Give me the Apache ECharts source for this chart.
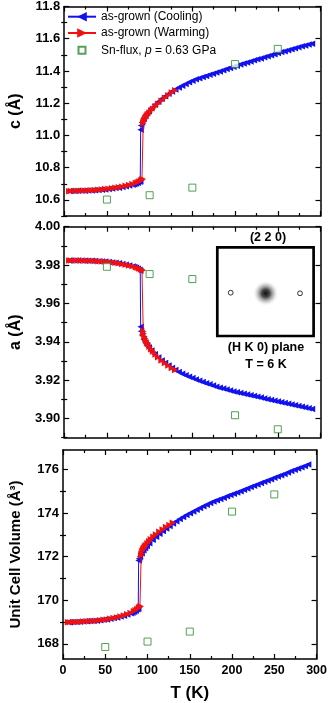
<!DOCTYPE html>
<html>
<head>
<meta charset="utf-8">
<script src="https://cdn.jsdelivr.net/npm/echarts@6/dist/echarts.min.js"></script>
<style>
  html, body { margin: 0; padding: 0; background: #fff; }
  #chart { width: 330px; height: 703px; }
</style>
</head>
<body>
<div id="chart"></div>
<script>
// as-grown, cooling run (K)
const coolT = [290, 286, 282, 278, 274, 270, 266, 262, 258, 254,
  250, 246, 242, 238, 234, 230, 226, 222, 218, 214,
  210, 206, 202, 198, 194, 190, 186, 182, 178, 174,
  170, 166, 162, 158, 154, 150, 146, 142, 138, 134,
  130, 126, 122, 118, 114, 110, 106, 102,
  99, 97, 95, 93, 91, 90, 89.5,
  89, 88, 86, 84, 82, 80,
  76, 72, 68, 64, 60, 56, 52, 48, 44, 40, 36, 32, 28, 24, 20, 16, 12, 8,
  6]
const coolC = [11.569, 11.564, 11.558, 11.553, 11.547, 11.541, 11.535, 11.529, 11.523, 11.517,
  11.511, 11.504, 11.498, 11.491, 11.485, 11.478, 11.472, 11.466, 11.459, 11.453,
  11.447, 11.440, 11.433, 11.426, 11.419, 11.412, 11.404, 11.397, 11.390, 11.383,
  11.376, 11.369, 11.362, 11.355, 11.348, 11.340, 11.330, 11.319, 11.309, 11.298,
  11.285, 11.272, 11.258, 11.243, 11.227, 11.209, 11.190, 11.168,
  11.150, 11.137, 11.122, 11.104, 11.080, 11.062, 11.035,
  10.716, 10.712, 10.706, 10.701, 10.697, 10.694,
  10.689, 10.684, 10.680, 10.676, 10.673, 10.670, 10.667, 10.665, 10.663, 10.661, 10.660, 10.659, 10.658, 10.657, 10.656, 10.656, 10.655, 10.655,
  10.655]
const coolA = [3.9050, 3.9053, 3.9057, 3.9061, 3.9065, 3.9069, 3.9073, 3.9077, 3.9081, 3.9085,
  3.9089, 3.9093, 3.9097, 3.9101, 3.9105, 3.9109, 3.9113, 3.9117, 3.9121, 3.9125,
  3.9129, 3.9133, 3.9137, 3.9141, 3.9146, 3.9151, 3.9156, 3.9161, 3.9166, 3.9172,
  3.9178, 3.9184, 3.9190, 3.9197, 3.9204, 3.9211, 3.9218, 3.9226, 3.9234, 3.9243,
  3.9253, 3.9264, 3.9276, 3.9289, 3.9303, 3.9318, 3.9335, 3.9354,
  3.9370, 3.9382, 3.9396, 3.9412, 3.9435, 3.9455, 3.9478,
  3.9770, 3.9775, 3.9781, 3.9786, 3.9790, 3.9793,
  3.9798, 3.9802, 3.9806, 3.9809, 3.9812, 3.9814, 3.9816, 3.9818, 3.9819, 3.9820, 3.9821, 3.9822, 3.9823, 3.9823, 3.9824, 3.9824, 3.9824, 3.9824,
  3.9824]
const coolV = [176.23, 176.17, 176.11, 176.05, 175.99, 175.93, 175.87, 175.80, 175.74, 175.68,
  175.62, 175.56, 175.50, 175.44, 175.38, 175.32, 175.26, 175.20, 175.13, 175.07,
  175.01, 174.95, 174.89, 174.83, 174.77, 174.71, 174.65, 174.59, 174.53, 174.46,
  174.39, 174.32, 174.24, 174.16, 174.08, 174.00, 173.91, 173.82, 173.73, 173.63,
  173.52, 173.41, 173.30, 173.18, 173.05, 172.92, 172.78, 172.62,
  172.49, 172.40, 172.29, 172.16, 172.00, 171.91, 171.82,
  169.62, 169.58, 169.52, 169.47, 169.43, 169.40,
  169.34, 169.29, 169.25, 169.21, 169.18, 169.15, 169.12, 169.10, 169.08, 169.06, 169.05, 169.04, 169.03, 169.02, 169.01, 169.00, 169.00, 168.99,
  168.99]

// as-grown, warming run (K)
const warmT = [6, 8, 12, 16, 20, 24, 28, 32, 36, 40, 44, 48, 52, 56, 60, 64, 68, 72, 76, 80, 84, 86, 88, 90, 91, 92,
  92.5, 93, 94, 95, 96, 97, 98, 100, 102, 104, 107, 110, 114, 118, 122, 126, 130]
const warmC = [10.654, 10.655, 10.655, 10.656, 10.657, 10.658, 10.659, 10.660, 10.661, 10.663, 10.665, 10.667, 10.669,
  10.672, 10.675, 10.678, 10.682, 10.687, 10.692, 10.698, 10.705, 10.709, 10.714, 10.720, 10.724, 10.729,
  11.075, 11.085, 11.097, 11.107, 11.116, 11.124, 11.131, 11.143, 11.155, 11.166, 11.181, 11.196, 11.215, 11.233, 11.250, 11.266, 11.281]
const warmA = [3.9824, 3.9824, 3.9824, 3.9824, 3.9824, 3.9823, 3.9823, 3.9822, 3.9821, 3.9820, 3.9819, 3.9818, 3.9816,
  3.9814, 3.9812, 3.9809, 3.9806, 3.9802, 3.9798, 3.9794, 3.9789, 3.9786, 3.9782, 3.9778, 3.9776, 3.9773,
  3.9455, 3.9442, 3.9428, 3.9416, 3.9405, 3.9396, 3.9388, 3.9374, 3.9361, 3.9349, 3.9334, 3.9319, 3.9303, 3.9289, 3.9276, 3.9264, 3.9253]
const warmV = [168.99, 168.99, 169.00, 169.00, 169.01, 169.02, 169.03, 169.04, 169.05, 169.06, 169.08, 169.10, 169.12,
  169.15, 169.18, 169.21, 169.25, 169.30, 169.35, 169.41, 169.49, 169.54, 169.60, 169.66, 169.69, 169.72,
  172.05, 172.15, 172.26, 172.34, 172.41, 172.47, 172.52, 172.62, 172.71, 172.80, 172.92, 173.02, 173.14, 173.25, 173.36, 173.46, 173.56]

// Sn-flux, p = 0.63 GPa
const snT = [50, 100, 150, 200, 250]
const snC = [10.602, 10.629, 10.676, 11.443, 11.537]
const snA = [3.9791, 3.9753, 3.9727, 3.9017, 3.8944]
const snV = [167.85, 168.10, 168.56, 174.07, 174.86]

// tick values
const cMajor = [10.6, 10.8, 11.0, 11.2, 11.4, 11.6, 11.8]
const cMinor = [10.5, 10.7, 10.9, 11.1, 11.3, 11.5, 11.7]
const aMajor = [3.90, 3.92, 3.94, 3.96, 3.98, 4.00]
const aMinor = [3.89, 3.91, 3.93, 3.95, 3.97, 3.99]
const vMajor = [168, 170, 172, 174, 176]
const vMinor = [169, 171, 173, 175]

const FONT = '"Liberation Sans", Arial, sans-serif'
const BLUE = '#1010f0'
const RED = '#f01010'
const GREEN = '#2a8a2a'

const panels = [
  { top: 6, height: 210, min: 10.5, max: 11.8, major: cMajor, minor: cMinor, dec: 1, name: 'c (Å)', gap: 39, fs: 16, cool: coolC, warm: warmC, sn: snC },
  { top: 226.7, height: 211, min: 3.89, max: 4.00, major: aMajor, minor: aMinor, dec: 2, name: 'a (Å)', gap: 39, fs: 16, cool: coolA, warm: warmA, sn: snA },
  { top: 450, height: 210, min: 167.3, max: 176.9, major: vMajor, minor: vMinor, dec: 0, name: 'Unit Cell Volume (Å³)', gap: 40, fs: 15, cool: coolV, warm: warmV, sn: snV }
]

const pairs = (xs, ys) => xs.map((x, i) => [x, ys[i]])

let grid = []
let xAxis = []
let yAxis = []
let series = []

panels.forEach(function (p, gi) {
  grid.push({ left: 59.5, right: 9.5, top: p.top, height: p.height })
  let last = gi === panels.length - 1
  ;['bottom', 'top'].forEach(function (pos) {
    xAxis.push({
      type: 'value', gridIndex: gi, position: pos, min: 0, max: 300, interval: 50,
      axisLine: { show: true, onZero: false, lineStyle: { color: '#000', width: 1.5 } },
      axisTick: { show: true, inside: true, length: 5, lineStyle: { color: '#000', width: 1.2 } },
      minorTick: { show: true, splitNumber: 2, length: 3, lineStyle: { color: '#000', width: 1.2 } },
      axisLabel: { show: last && pos === 'bottom', margin: 5, color: '#000', fontSize: 12.5, fontWeight: 'bold', fontFamily: FONT },
      splitLine: { show: false },
      name: last && pos === 'bottom' ? 'T (K)' : '',
      nameLocation: 'middle', nameGap: 26,
      nameTextStyle: { color: '#000', fontSize: 17, fontWeight: 'bold', fontFamily: FONT }
    })
  })
  ;['left', 'right'].forEach(function (pos) {
    // major ticks (and labels on the left)
    yAxis.push({
      type: 'value', gridIndex: gi, position: pos, min: p.min, max: p.max,
      axisLine: { show: true, onZero: false, lineStyle: { color: '#000', width: 1.5 } },
      axisTick: { show: true, inside: true, length: 5, customValues: p.major, lineStyle: { color: '#000', width: 1.2 } },
      axisLabel: {
        show: pos === 'left', customValues: p.major, margin: 4, color: '#000', fontSize: 13, fontWeight: 'bold', fontFamily: FONT,
        formatter: v => Number(v).toFixed(p.dec)
      },
      splitLine: { show: false },
      name: pos === 'left' ? p.name : '',
      nameLocation: 'middle', nameGap: p.gap,
      nameTextStyle: { color: '#000', fontSize: p.fs, fontWeight: 'bold', fontFamily: FONT }
    })
    // minor ticks
    yAxis.push({
      type: 'value', gridIndex: gi, position: pos, min: p.min, max: p.max,
      axisLine: { show: false },
      axisTick: { show: true, inside: true, length: 3, customValues: p.minor, lineStyle: { color: '#000', width: 1.2 } },
      axisLabel: { show: false },
      splitLine: { show: false }
    })
  })

  series.push({
    name: 'as-grown (Cooling)', type: 'line', xAxisIndex: gi * 2, yAxisIndex: gi * 4,
    data: pairs(coolT, p.cool), symbol: 'triangle', symbolSize: 6.5, symbolRotate: 90,
    lineStyle: { color: BLUE, width: 1 }, itemStyle: { color: BLUE }, z: 2
  })
  series.push({
    name: 'as-grown (Warming)', type: 'line', xAxisIndex: gi * 2, yAxisIndex: gi * 4,
    data: pairs(warmT, p.warm), symbol: 'triangle', symbolSize: 6.5, symbolRotate: -90,
    lineStyle: { color: RED, width: 1 }, itemStyle: { color: RED }, z: 3
  })
  series.push({
    name: 'Sn-flux', type: 'scatter', xAxisIndex: gi * 2, yAxisIndex: gi * 4,
    data: pairs(snT, p.sn), symbol: 'rect', symbolSize: 7,
    itemStyle: { color: '#fff', borderColor: GREEN, borderWidth: 1 }, z: 4
  })
})

let chart = echarts.init(document.getElementById('chart'))
chart.setOption({
  animation: false,
  backgroundColor: '#fff',
  grid: grid,
  xAxis: xAxis,
  yAxis: yAxis,
  legend: {
    orient: 'vertical', left: 67, top: 10.7, padding: 0,
    itemWidth: 28, itemHeight: 12, itemGap: 4.3,
    data: [
      'as-grown (Cooling)',
      'as-grown (Warming)',
      // small square icon: the outer move points pad the box so the square stays ~7px
      { name: 'Sn-flux', icon: 'path://M0,0 M12,12 M2.5,2.5 L9.5,2.5 L9.5,9.5 L2.5,9.5 Z' }
    ],
    formatter: function (name) {
      if (name === 'Sn-flux') return '{n|Sn-flux, }{i|p}{n| = 0.63 GPa}'
      return name
    },
    textStyle: {
      color: '#000', fontSize: 12, fontFamily: FONT,
      rich: { n: { fontSize: 12, fontFamily: FONT, color: '#000' }, i: { fontSize: 12, fontFamily: FONT, fontStyle: 'italic', color: '#000' } }
    }
  },
  graphic: [
    { type: 'rect', z: 100, shape: { x: 217.3, y: 247.3, width: 96.3, height: 88.7 }, style: { fill: '#fff', stroke: '#000', lineWidth: 2.7 } },
    {
      type: 'circle', z: 101, shape: { cx: 265.7, cy: 293.3, r: 13 },
      style: {
        fill: {
          type: 'radial', x: 0.5, y: 0.5, r: 0.5,
          colorStops: [
            { offset: 0, color: 'rgba(15,15,15,1)' },
            { offset: 0.3, color: 'rgba(50,50,50,0.9)' },
            { offset: 0.65, color: 'rgba(150,150,150,0.5)' },
            { offset: 1, color: 'rgba(255,255,255,0)' }
          ]
        }
      }
    },
    { type: 'circle', z: 101, shape: { cx: 230.7, cy: 292.7, r: 2.4 }, style: { fill: '#fff', stroke: '#000', lineWidth: 0.8 } },
    { type: 'circle', z: 101, shape: { cx: 300, cy: 293.3, r: 2.4 }, style: { fill: '#fff', stroke: '#000', lineWidth: 0.8 } },
    { type: 'text', z: 101, x: 268, y: 237.5, style: { text: '(2 2 0)', font: 'bold 12.5px ' + FONT, fill: '#000', textAlign: 'center', textVerticalAlign: 'middle', align: 'center', verticalAlign: 'middle' } },
    { type: 'text', z: 101, x: 266, y: 348, style: { text: '(H K 0) plane', font: 'bold 12.5px ' + FONT, fill: '#000', textAlign: 'center', textVerticalAlign: 'middle', align: 'center', verticalAlign: 'middle' } },
    { type: 'text', z: 101, x: 266, y: 364.5, style: { text: 'T = 6 K', font: 'bold 12.5px ' + FONT, fill: '#000', textAlign: 'center', textVerticalAlign: 'middle', align: 'center', verticalAlign: 'middle' } }
  ],
  series: series
})
</script>
</body>
</html>
